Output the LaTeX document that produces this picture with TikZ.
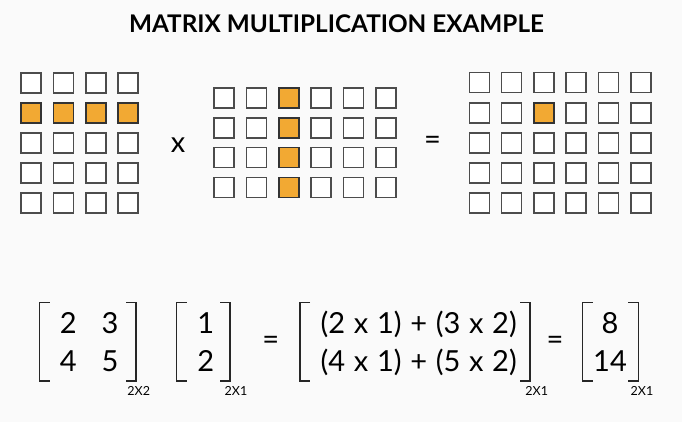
\documentclass[tikz,border=0pt]{standalone}
\usepackage{fontspec}
\setmainfont{Lato}
\definecolor{hlorange}{HTML}{F2A933}
\definecolor{bggray}{HTML}{FAFAFA}
\tikzset{sq/.append style={minimum size=20pt, draw=black!70, fill=white, line width=1.6pt, inner sep=0pt}}
\tikzset{hl/.append style={fill=hlorange, draw=black!80}}
\tikzset{num/.append style={font=\fontsize{29}{33}\selectfont, inner sep=0pt, anchor=base}}
\tikzset{dim/.append style={font=\fontsize{12.5}{14}\selectfont, inner sep=0pt, anchor=base}}
\tikzset{brk/.append style={line width=1.5pt, draw=black!85}}

\begin{document}
\begin{tikzpicture}[x=1pt,y=-1pt]
                % background
                \fill[bggray] (0,0) rectangle (682,422);
                \useasboundingbox (0,0) rectangle (682,422);
                \node[font=\bfseries\fontsize{24.3}{28}\selectfont, anchor=base, inner sep=0pt] (title) at (336.5,32.5) {MATRIX MULTIPLICATION EXAMPLE};
                % grid A (5x4)
                \foreach \i in {0,...,3}
                  \foreach \j in {0,...,4}
                    \node[sq] (a-\j-\i) at (31+32.4*\i, 83+30*\j) {};
                \foreach \i in {0,...,3}
                  \node[sq,hl] (a-1-\i) at (31+32.4*\i, 113) {};
                \node[num] (times) at (178,152.5) {x};
                % grid B (4x6)
                \foreach \i in {0,...,5}
                  \foreach \j in {0,...,3}
                    \node[sq] (b-\j-\i) at (224+32.4*\i, 98+29.8*\j) {};
                \foreach \j in {0,...,3}
                  \node[sq,hl] (b-\j-2) at (288.8, 98+29.8*\j) {};
                \node[num] (eq) at (432.5,149.5) {=};
                % grid C (5x6)
                \foreach \i in {0,...,5}
                  \foreach \j in {0,...,4}
                    \node[sq] (c-\j-\i) at (479.3+32.3*\i, 82.7+30.1*\j) {};
                \node[sq,hl] (c-1-2) at (543.9, 112.8) {};
                % first matrix
                \draw[brk] (49.5,302.5) -- (39.5,302.5) -- (39.5,381) -- (49.5,381);
                \draw[brk] (126,302.5) -- (136,302.5) -- (136,381) -- (126,381);
                \node[num] (m11) at (68.3,333) {2};
                \node[num] (m12) at (110,333) {3};
                \node[num] (m21) at (68.3,371.7) {4};
                \node[num] (m22) at (110,371.7) {5};
                \node[dim] (d1) at (138.7,395) {2X2};
                % second matrix
                \draw[brk] (186.7,302.5) -- (176.7,302.5) -- (176.7,381) -- (186.7,381);
                \draw[brk] (220,302.5) -- (230,302.5) -- (230,381) -- (220,381);
                \node[num] (v1) at (205.7,333) {1};
                \node[num] (v2) at (205.7,371.7) {2};
                \node[dim] (d2) at (236,395) {2X1};
                \node[num] (eq2) at (270.7,349.5) {=};
                % product
                \draw[brk] (310,302.5) -- (300,302.5) -- (300,381) -- (310,381);
                \draw[brk] (520,302.5) -- (530,302.5) -- (530,381) -- (520,381);
                \node[num] (p1) at (418.7,333) {\spaceskip=0.3em (2 x 1) + (3 x 2)};
                \node[num] (p2) at (418.7,371.7) {\spaceskip=0.3em (4 x 1) + (5 x 2)};
                \node[dim] (d3) at (536.7,395) {2X1};
                \node[num] (eq3) at (555,349.5) {=};
                % result
                \draw[brk] (592.7,302.5) -- (582.7,302.5) -- (582.7,381) -- (592.7,381);
                \draw[brk] (628.3,302.5) -- (638.3,302.5) -- (638.3,381) -- (628.3,381);
                \node[num] (r1) at (610,333) {8};
                \node[num] (r2) at (610,371.7) {14};
                \node[dim] (d4) at (642,395) {2X1};
            \end{tikzpicture}
\end{document}
